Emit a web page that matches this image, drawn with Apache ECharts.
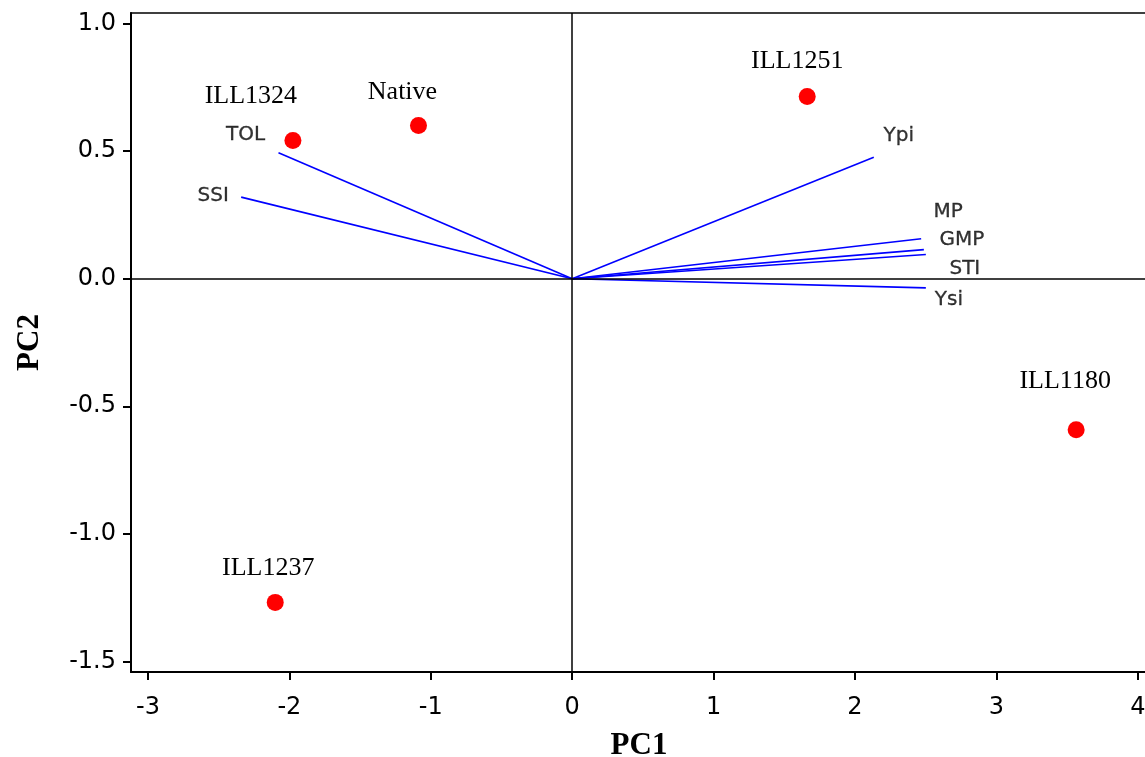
<!DOCTYPE html>
<html><head><meta charset="utf-8">
<script src="https://cdn.jsdelivr.net/npm/echarts@6/dist/echarts.min.js"></script>
<style>html,body{margin:0;padding:0;background:#fff;overflow:hidden}#c{width:1145px;height:757px}</style>
</head><body><div id="c"></div>
<script>
// Genotype scores
const genotypes = ['ILL1324', 'Native', 'ILL1251', 'ILL1180', 'ILL1237'];
const genoPC1 = [-1.975, -1.087, 1.662, 3.564, -2.100];
const genoPC2 = [0.542, 0.601, 0.715, -0.592, -1.269];
// Index loadings (vectors from origin)
const indices = ['TOL', 'SSI', 'Ypi', 'MP', 'GMP', 'STI', 'Ysi'];
const idxPC1 = [-2.077, -2.341, 2.133, 2.468, 2.487, 2.501, 2.501];
const idxPC2 = [0.494, 0.320, 0.476, 0.157, 0.114, 0.095, -0.036];
// Tick labels
const xTicks = [-3, -2, -1, 0, 1, 2, 3, 4];
const yTicks = [-1.5, -1.0, -0.5, 0.0, 0.5, 1.0];

// label placement (pixels, not data)
const genoLabelOffset = [[-42, -44], [-16, -33], [-10, -35], [-11, -49], [-7, -34]];
const idxLabelOffset = [[-33, -18], [-28, -1], [25, -22], [27, -27], [38, -10], [39, 14], [23, 12]];

const chart = echarts.init(document.getElementById('c'), null, {renderer: 'canvas'});

const vectorSeries = indices.map((n, i) => ({
  type: 'line',
  name: n,
  data: [[0, 0], [idxPC1[i], idxPC2[i]]],
  symbol: 'none',
  lineStyle: {color: '#0000ff', width: 1.6},
  silent: true,
  z: 3
}));

const option = {
  animation: false,
  backgroundColor: '#fff',
  grid: {left: 131, right: -2, top: 13, bottom: 85, show: true, borderColor: '#000', borderWidth: 1.5,
         containLabel: false, outerBoundsMode: 'none'},
  xAxis: {
    type: 'value', min: -3.12, max: 4.065,
    name: 'PC1', nameLocation: 'middle', nameGap: 58,
    nameTextStyle: {fontFamily: 'Liberation Serif', fontWeight: 'bold', fontSize: 31, color: '#000'},
    axisLine: {show: true, onZero: false, lineStyle: {color: '#000', width: 2}},
    axisTick: {show: true, length: 8, inside: false, customValues: xTicks, lineStyle: {color: '#000', width: 2}},
    axisLabel: {customValues: xTicks, fontFamily: 'DejaVu Sans', fontSize: 24, color: '#000', margin: 24},
    splitLine: {show: false}
  },
  yAxis: {
    type: 'value', min: -1.542, max: 1.042,
    name: 'PC2', nameLocation: 'middle', nameGap: 86,
    nameTextStyle: {fontFamily: 'Liberation Serif', fontWeight: 'bold', fontSize: 31, color: '#000'},
    axisLine: {show: true, onZero: false, lineStyle: {color: '#000', width: 2}},
    axisTick: {show: true, length: 8, inside: false, customValues: yTicks, lineStyle: {color: '#000', width: 2}},
    axisLabel: {customValues: yTicks, formatter: v => v.toFixed(1), fontFamily: 'DejaVu Sans', fontSize: 24, color: '#000', margin: 15},
    splitLine: {show: false}
  },
  series: [
    {
      type: 'line', data: [], silent: true,
      markLine: {
        silent: true, symbol: 'none', label: {show: false},
        lineStyle: {color: '#000', width: 1.5, type: 'solid'},
        data: [{xAxis: 0}, {yAxis: 0}]
      },
      z: 2
    },
    ...vectorSeries,
    {
      type: 'scatter', name: 'indexLabels', silent: true, symbolSize: 0,
      data: indices.map((n, i) => ({
        value: [idxPC1[i], idxPC2[i]], name: n,
        label: {offset: idxLabelOffset[i]}
      })),
      label: {show: true, position: 'inside', formatter: p => p.name,
        fontFamily: 'DejaVu Sans', fontSize: 20, color: '#000',
        textBorderColor: '#000', textBorderWidth: 0.3},
      z: 4
    },
    {
      type: 'scatter', name: 'genotypes', silent: true, symbol: 'circle', symbolSize: 17,
      itemStyle: {color: '#ff0000', opacity: 1},
      data: genotypes.map((n, i) => ({
        value: [genoPC1[i], genoPC2[i]], name: n,
        label: {offset: genoLabelOffset[i]}
      })),
      label: {show: true, position: 'inside', formatter: p => p.name,
        fontFamily: 'Liberation Serif', fontSize: 26, color: '#000'},
      z: 5
    }
  ]
};
chart.setOption(option);
</script>
</body></html>
